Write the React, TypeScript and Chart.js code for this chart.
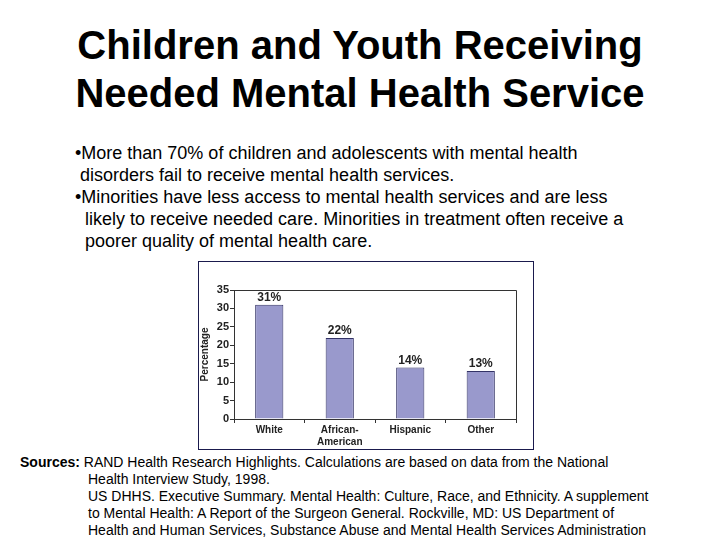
import React, { useEffect, useRef } from "react";
import { Chart, registerables } from "chart.js";

Chart.register(...registerables);

const categories: (string | string[])[] = ["White", ["African-", "American"], "Hispanic", "Other"];
const percentages = [31, 22, 14, 13];
const valueLabels = ["31%", "22%", "14%", "13%"];
const yTicks = [0, 5, 10, 15, 20, 25, 30, 35];

const FONT = "'Liberation Sans', Arial, Helvetica, sans-serif";

const valueLabelPlugin = {
  id: "valueLabels",
  afterDatasetsDraw(chart: any) {
    const ctx = chart.ctx;
    const meta = chart.getDatasetMeta(0);
    ctx.save();
    ctx.font = `bold 12px ${FONT}`;
    ctx.fillStyle = "#222222";
    ctx.textAlign = "center";
    ctx.textBaseline = "bottom";
    meta.data.forEach((el: any, i: number) => {
      ctx.fillText(valueLabels[i], el.x, el.y - 1);
    });
    ctx.restore();
  },
};

const frameDraw = {
  id: "plotFrame",
  afterDraw(chart: any) {
    const { ctx, chartArea } = chart;
    ctx.save();
    ctx.strokeStyle = "#333333";
    ctx.lineWidth = 1;
    ctx.beginPath();
    ctx.moveTo(chartArea.left, chartArea.top + 0.5);
    ctx.lineTo(chartArea.right + 0.5, chartArea.top + 0.5);
    ctx.lineTo(chartArea.right + 0.5, chartArea.bottom);
    ctx.stroke();
    ctx.restore();
  },
};

function BarChart() {
  const ref = useRef<HTMLCanvasElement | null>(null);
  useEffect(() => {
    if (!ref.current) return;
    const chart = new Chart(ref.current, {
      type: "bar",
      data: {
        labels: categories as any,
        datasets: [
          {
            data: percentages,
            backgroundColor: "#9999cc",
            borderColor: "#333366",
            borderWidth: 1,
            barPercentage: 0.4,
            categoryPercentage: 1,
          },
        ],
      },
      options: {
        animation: false,
        responsive: false,
        maintainAspectRatio: false,
        layout: { padding: { top: 28, right: 17, left: 0, bottom: 0 } },
        plugins: {
          legend: { display: false },
          tooltip: { enabled: false },
          title: { display: false },
        },
        scales: {
          x: {
            grid: {
              display: true,
              drawOnChartArea: false,
              offset: true,
              tickLength: 4,
              color: "#333333",
            },
            border: { display: true, color: "#333333" },
            ticks: {
              color: "#222222",
              font: { family: FONT, size: 10, weight: "bold", lineHeight: 1.2 },
              padding: 1,
              maxRotation: 0,
            },
            afterFit(scale: any) {
              scale.height = 30;
            },
          },
          y: {
            min: 0,
            max: 35,
            afterBuildTicks(scale: any) {
              scale.ticks = yTicks.map((v) => ({ value: v }));
            },
            grid: {
              display: true,
              drawOnChartArea: false,
              tickLength: 4,
              color: "#333333",
            },
            border: { display: true, color: "#333333" },
            ticks: {
              color: "#222222",
              font: { family: FONT, size: 11, weight: "bold" },
              padding: 1,
            },
            title: {
              display: true,
              text: "Percentage",
              color: "#222222",
              font: { family: FONT, size: 10, weight: "bold" },
              padding: { top: 0, bottom: 1 },
            },
            afterFit(scale: any) {
              scale.width = 35;
            },
          },
        },
      },
      plugins: [valueLabelPlugin, frameDraw],
    });
    return () => chart.destroy();
  }, []);
  return <canvas ref={ref} width={334} height={187} style={{ display: "block", width: 334, height: 187 }} />;
}

export default function App() {
  return (
    <div
      style={{
        position: "fixed",
        left: 0,
        top: 0,
        width: 720,
        height: 540,
        background: "#ffffff",
        fontFamily: FONT,
        color: "#000000",
        overflow: "hidden",
      }}
    >
      <div
        style={{
          position: "absolute",
          left: 0,
          top: 21,
          width: 720,
          textAlign: "center",
          fontWeight: "bold",
          fontSize: 40,
          lineHeight: "48px",
          whiteSpace: "nowrap",
        }}
      >
        Children and Youth Receiving
        <br />
        Needed Mental Health Service
      </div>
      <div
        style={{
          position: "absolute",
          left: 75,
          top: 142,
          width: 640,
          fontSize: 18,
          lineHeight: "22px",
          whiteSpace: "pre",
        }}
      >
        {"•More than 70% of children and adolescents with mental health\n disorders fail to receive mental health services.\n•Minorities have less access to mental health services and are less\n  likely to receive needed care. Minorities in treatment often receive a\n  poorer quality of mental health care."}
      </div>
      <div
        style={{
          position: "absolute",
          left: 198,
          top: 261,
          width: 334,
          height: 187,
          border: "1px solid #1a1a4d",
          background: "#ffffff",
        }}
      >
        <BarChart />
      </div>
      <div
        style={{
          position: "absolute",
          left: 20,
          top: 454,
          width: 700,
          fontSize: 14,
          lineHeight: "17px",
          whiteSpace: "nowrap",
        }}
      >
        <div>
          <b>Sources:</b> RAND Health Research Highlights. Calculations are based on data from the National
        </div>
        <div style={{ paddingLeft: 68 }}>
          Health Interview Study, 1998.
          <br />
          US DHHS. Executive Summary. Mental Health: Culture, Race, and Ethnicity. A supplement
          <br />
          to Mental Health: A Report of the Surgeon General. Rockville, MD: US Department of
          <br />
          Health and Human Services, Substance Abuse and Mental Health Services Administration
        </div>
      </div>
    </div>
  );
}
